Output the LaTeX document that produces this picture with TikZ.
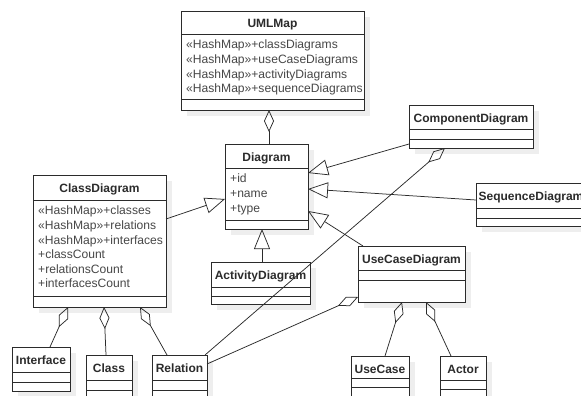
\documentclass[tikz,border=0pt]{standalone}
\usepackage{fontspec}
\setmainfont{Liberation Sans}
\usetikzlibrary{arrows.meta,calc}
\definecolor{ink}{HTML}{2B2B2B}
\definecolor{attrc}{HTML}{474747}
\definecolor{shadowgrey}{HTML}{EEEEEE}

\tikzset{
  classbox/.style={draw=ink, fill=white, line width=0.9pt, inner sep=0pt, outer sep=0pt, anchor=north west},
  classtitle/.style={font=\fontsize{12}{14}\selectfont\bfseries, text=ink, inner sep=0pt, anchor=base},
  attrtext/.style={font=\fontsize{12.1}{14.6}\selectfont, text=attrc, align=left, anchor=north west, inner sep=0pt},
  partline/.style={draw=ink, line width=0.9pt},
  boxshadow/.style={fill=shadowgrey, draw=none},
  conn/.style={draw=ink, line width=0.75pt},
  agg/.style={conn, {Diamond[open, length=22pt, width=10pt]}-},
  gen/.style={conn, -{Triangle[open, length=20pt, width=16pt]}},
}

% class box: name, x1, y1, x2, y2, header rule, second rule, title
\newcommand\umlclass[8]{%
  \path[boxshadow] (#2+6,#3+6) rectangle (#4+6,#5+6);
  \node[classbox, minimum width={(#4-#2)*1pt}, minimum height={(#5-#3)*1pt}] (#1) at (#2,#3) {};
  \node[classtitle] (#1-t) at ({(#2+#4)/2},#3+17) {#8};
  \draw[partline] (#2,#6) -- (#4,#6);
  \draw[partline] (#2,#7) -- (#4,#7);
}

\begin{document}
\begin{tikzpicture}[x=1pt,y=-1pt]
\useasboundingbox (0,0) rectangle (581,396);
\clip (0,0) rectangle (581,396);

\umlclass{umlmap}{181}{11}{364}{110}{34}{99}{UMLMap}
\node[attrtext] (umlmap-a) at (186,40) {«HashMap»+classDiagrams\\«HashMap»+useCaseDiagrams\\«HashMap»+activityDiagrams\\«HashMap»+sequenceDiagrams};

\umlclass{diagram}{225}{144}{308}{229}{168}{220}{Diagram}
\node[attrtext] (diagram-a) at (230,174) {+id\\+name\\+type};

\umlclass{classdiagram}{33}{175}{166}{307}{200}{296}{ClassDiagram}
\node[attrtext] (classdiagram-a) at (38,206) {«HashMap»+classes\\«HashMap»+relations\\«HashMap»+interfaces\\+classCount\\+relationsCount\\+interfacesCount};

\umlclass{component}{409}{105}{533}{148}{129}{139}{ComponentDiagram}
\umlclass{sequence}{476}{183}{586}{226}{208}{218}{SequenceDiagram}
\umlclass{activity}{211}{262}{310}{304}{287}{296}{ActivityDiagram}
\umlclass{usecasediag}{358}{246}{465}{302}{270}{280}{UseCaseDiagram}
\umlclass{interface}{12}{347}{70}{391}{372}{382}{Interface}
\umlclass{class}{86}{355}{132}{410}{380}{390}{Class}
\umlclass{relation}{152}{355}{207}{410}{380}{390}{Relation}
\umlclass{usecase}{351}{356}{409}{410}{378}{387}{UseCase}
\umlclass{actor}{440}{356}{486}{410}{380}{389}{Actor}

% aggregation and generalisation links
\draw[agg] (umlmap.south -| 269,0) -- (diagram.north -| 269,0);
\draw[gen] (activity.north -| 262,0) -- (diagram.south -| 262,0);
\draw[gen] (classdiagram.east |- 0,219) -- (diagram.west |- 0,199);
\draw[gen] (component.west |- 0,144) -- (diagram.east |- 0,173);
\draw[gen] (sequence.west |- 0,200) -- (diagram.east |- 0,189);
\draw[gen] (usecasediag.north -| 363,0) -- (diagram.east |- 0,211);
\draw[agg] (classdiagram.south -| 68,0) -- (interface.north -| 50,0);
\draw[agg] (classdiagram.south -| 104,0) -- (class.north -| 106,0);
\draw[agg] (classdiagram.south -| 140,0) -- (relation.north -| 167,0);
\draw[agg] (component.south -| 445,0) -- (relation.north -| 205,0);
\draw[agg] (usecasediag.west |- 0,297) -- (relation.east |- 0,364);
\draw[agg] (usecasediag.south -| 402,0) -- (usecase.north -| 385,0);
\draw[agg] (usecasediag.south -| 426,0) -- (actor.north -| 451,0);
\end{tikzpicture}
\end{document}
